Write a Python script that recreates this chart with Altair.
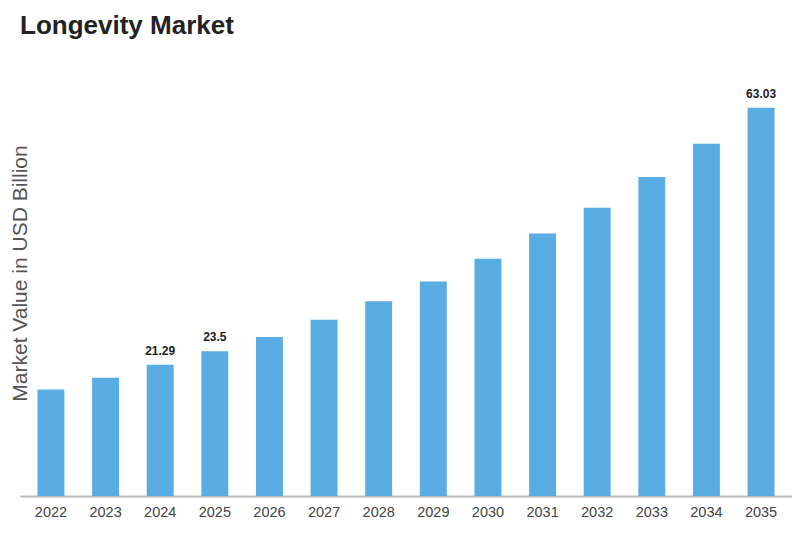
import altair as alt
import pandas as pd

years = ["2022", "2023", "2024", "2025", "2026", "2027", "2028",
         "2029", "2030", "2031", "2032", "2033", "2034", "2035"]
values = [17.3, 19.2, 21.29, 23.5, 25.8, 28.6, 31.6,
          34.8, 38.5, 42.6, 46.8, 51.8, 57.2, 63.03]
labels = ["", "", "21.29", "23.5", "", "", "", "", "", "", "", "", "", "63.03"]

df = pd.DataFrame({"year": years, "value": values, "label": labels})

FONT = "Liberation Sans, Arial, sans-serif"

base = alt.Chart(df).encode(
    x=alt.X("year:N", sort=years,
            scale=alt.Scale(paddingInner=0.507, paddingOuter=0.32),
            axis=alt.Axis(title=None, labelAngle=0, ticks=False, domain=True,
                          domainColor="#bbbbbb", domainWidth=2,
                          labelFont=FONT, labelFontSize=14.5, labelColor="#444444",
                          labelPadding=9, grid=False)),
    y=alt.Y("value:Q", scale=alt.Scale(domain=[0, 72.4], nice=False),
            axis=alt.Axis(title="Market Value in USD Billion", labels=False, ticks=False,
                          domain=False, grid=False, titleFont=FONT,
                          titleFontSize=21, titleFontWeight="normal", titleColor="#555555",
                          titleX=0, titleY=223, titleAngle=-90,
                          titleAlign="center", titleBaseline="middle")),
)

bars = base.mark_bar(color="#5aade3")

text = base.mark_text(baseline="bottom", dy=-7, font=FONT, fontSize=12,
                      fontWeight="bold", color="#222222").encode(text="label:N")

chart = (bars + text).properties(
    width=772,
    height=446,
    title=alt.TitleParams("Longevity Market", anchor="start", frame="group", font=FONT,
                          fontSize=26, fontWeight="bold", color="#222222", offset=11),
    autosize=alt.AutoSizeParams(type="none"),
    padding={"left": 12, "top": 42, "right": 0, "bottom": 29},
).configure_view(stroke=None)

chart.save("out.html", embed_options={"renderer": "svg", "actions": False})
